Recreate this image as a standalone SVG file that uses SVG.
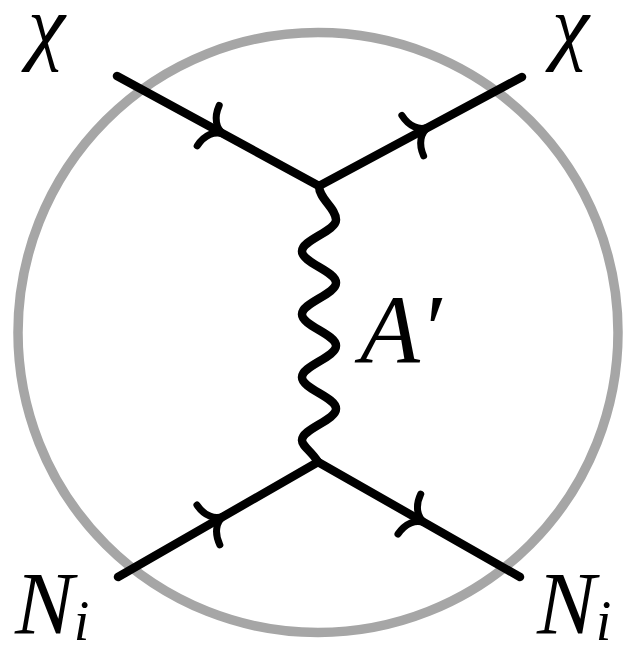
<svg xmlns="http://www.w3.org/2000/svg" width="629" height="652" viewBox="0 0 629 652">
  <style>
    .ring { fill: none; stroke: #a6a6a6; stroke-width: 9.5; }
    .fermion { fill: none; stroke: #000; stroke-width: 8.5; stroke-linecap: round; }
    .photon { fill: none; stroke: #000; stroke-width: 8.5; stroke-linecap: round; stroke-linejoin: round; }
    .arrow { fill: none; stroke: #000; stroke-width: 7; stroke-linecap: round; stroke-linejoin: round; }
    text { font-family: "Liberation Serif", "DejaVu Serif", "Times New Roman", Times, serif; font-style: italic; fill: #000; }
  </style>
  <defs>
    <path id="arr" d="M -18,-23 C -17,-10 -10,-1 0,0 C -10,1 -17,10 -18,23"/>
  </defs>
  <rect width="629" height="652" fill="#fff"/>

  <g id="ring">
    <circle class="ring" cx="318" cy="332.5" r="300"/>
  </g>

  <g id="connectors">
    <line class="fermion" x1="117" y1="76" x2="319" y2="186"/>
    <line class="fermion" x1="319" y1="186" x2="522" y2="77"/>
    <line class="fermion" x1="118" y1="577" x2="318" y2="462"/>
    <line class="fermion" x1="318" y1="462" x2="520" y2="577"/>
    <path class="photon" d="M 319,186 C 319,199 336,208 336,219.75 C 336,225.45 327.7,230.36 319,235.5 S 302,245.55 302,251.25 S 310.3,261.86 319,267 S 336,277.05 336,282.75 S 327.7,293.36 319,298.5 S 302,308.55 302,314.25 S 310.3,324.86 319,330 S 336,340.05 336,345.75 S 327.7,356.36 319,361.5 S 302,371.55 302,377.25 S 310.3,387.86 319,393 S 336,403.05 336,408.75 S 327.7,419.36 319,424.5 S 302,434.55 302,440.25 S 312,452 318,462"/>
    <use href="#arr" class="arrow" transform="translate(224,134.3) rotate(28.57)"/>
    <use href="#arr" class="arrow" transform="translate(428.6,127.1) rotate(-28.23)"/>
    <use href="#arr" class="arrow" transform="translate(224,516) rotate(-29.9)"/>
    <use href="#arr" class="arrow" transform="translate(425,523) rotate(29.65)"/>
  </g>

  <g id="chi-in">
    <text x="28" y="54" font-size="84">χ</text>
  </g>
  <g id="chi-out">
    <text x="552" y="54" font-size="84">χ</text>
  </g>
  <g id="N-in">
    <text x="15" y="633" font-size="88">N<tspan font-size="56" dy="7">i</tspan></text>
  </g>
  <g id="N-out">
    <text x="537" y="633" font-size="88">N<tspan font-size="56" dy="7">i</tspan></text>
  </g>
  <g id="A-prime">
    <text x="360" y="362" font-size="98">A′</text>
  </g>
</svg>
